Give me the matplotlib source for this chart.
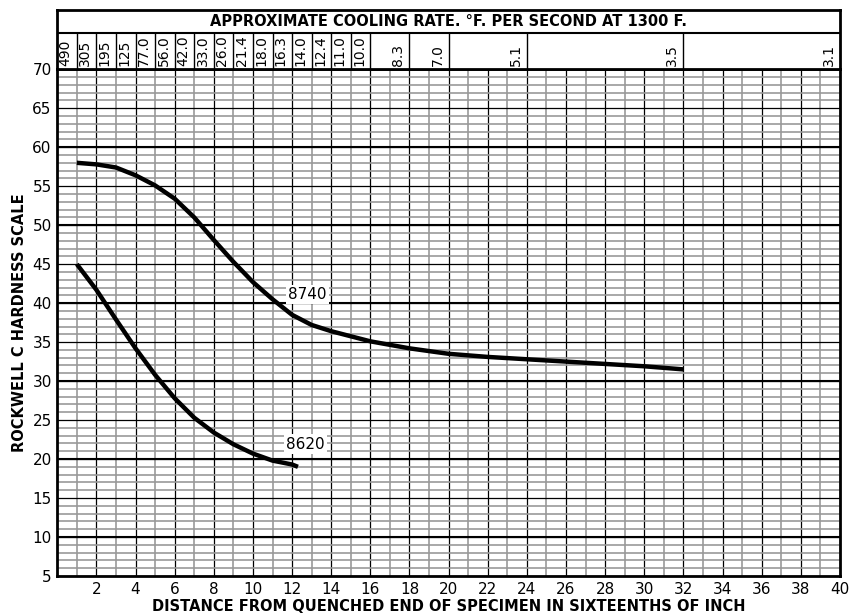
import matplotlib
matplotlib.use("Agg")
import matplotlib.pyplot as plt

# Jominy end-quench curves (distance in 1/16 in, hardness HRC)
x_8740 = [1, 2, 3, 4, 5, 6, 7, 8, 9, 10, 11, 12, 13, 14, 16, 18, 20, 22, 24, 26, 28, 30, 32]
hrc_8740 = [58.0, 57.8, 57.4, 56.4, 55.1, 53.4, 51.0, 48.1, 45.3, 42.7, 40.5, 38.5, 37.2,
            36.4, 35.1, 34.2, 33.5, 33.1, 32.8, 32.5, 32.2, 31.9, 31.5]

x_8620 = [1, 2, 3, 4, 5, 6, 7, 8, 9, 10, 11, 12, 12.3]
hrc_8620 = [45.0, 41.7, 37.9, 34.2, 30.8, 27.8, 25.3, 23.4, 21.9, 20.7, 19.8, 19.3, 19.0]

# cooling rate header: column right edges and labels
rate_edges = [1, 2, 3, 4, 5, 6, 7, 8, 9, 10, 11, 12, 13, 14, 15, 16, 18, 20, 24, 32, 40]
rate_labels = ['490', '305', '195', '125', '77.0', '56.0', '42.0', '33.0', '26.0', '21.4',
               '18.0', '16.3', '14.0', '12.4', '11.0', '10.0', '8.3', '7.0', '5.1', '3.5', '3.1']

x_ticks = list(range(2, 41, 2))
y_ticks = list(range(5, 71, 5))

fig = plt.figure(figsize=(8.51, 6.13), dpi=100)
ax = fig.add_axes([0.0673, 0.0604, 0.9197, 0.8266])
hx = fig.add_axes([0.0673, 0.887, 0.9197, 0.0967], sharex=ax)

ax.set_xlim(0, 40)
ax.set_ylim(5, 70)

# grid
ax.set_xticks(x_ticks)
ax.set_xticks(range(1, 40, 2), minor=True)
ax.set_yticks(y_ticks)
ax.set_yticks(range(6, 70), minor=True)
ax.grid(which='minor', color='#999999', lw=1.2, zorder=0)
ax.grid(which='major', color='black', lw=0.9, zorder=1)
for v in range(10, 70, 10):
    ax.axhline(v, color='black', lw=1.5, zorder=1)
ax.set_axisbelow(True)
ax.tick_params(which='both', length=0, labelsize=11, pad=4)
for s in ax.spines.values():
    s.set_linewidth(2)

# curves
ax.plot(x_8740, hrc_8740, color='black', lw=3.2, solid_capstyle='butt',
        solid_joinstyle='round', zorder=3)
ax.plot(x_8620, hrc_8620, color='black', lw=3.2, solid_capstyle='butt',
        solid_joinstyle='round', zorder=3)
box = dict(boxstyle='square,pad=0.15', facecolor='white', edgecolor='none')
ax.text(12.8, 41.1, '8740', fontsize=11, ha='center', va='center', bbox=box, zorder=4)
ax.text(12.7, 21.9, '8620', fontsize=11, ha='center', va='center', bbox=box, zorder=4)

ax.set_xlabel('DISTANCE FROM QUENCHED END OF SPECIMEN IN SIXTEENTHS OF INCH',
              fontsize=10.5, fontweight='bold', labelpad=2)
ax.set_ylabel('ROCKWELL C HARDNESS SCALE', fontsize=10.5, fontweight='bold', labelpad=4)

# header
hx.set_ylim(0, 1)
split = 0.617
hx.tick_params(which='both', length=0, labelbottom=False, labelleft=False)
hx.set_yticks([])
for s in hx.spines.values():
    s.set_linewidth(2)
hx.axhline(split, color='black', lw=1.5)
for edge, lab in zip(rate_edges, rate_labels):
    if edge < 40:
        hx.plot([edge, edge], [0, split], color='black', lw=1.0)
    hx.annotate(lab, xy=(edge, 0), xytext=(-3, 2), textcoords='offset points',
                rotation=90, ha='right', va='bottom', fontsize=10)
hx.text(20, (split + 1) / 2, 'APPROXIMATE COOLING RATE. \u00b0F. PER SECOND AT 1300 F.',
        ha='center', va='center', fontsize=10.5, fontweight='bold')

fig.savefig('out.png', dpi=100)
